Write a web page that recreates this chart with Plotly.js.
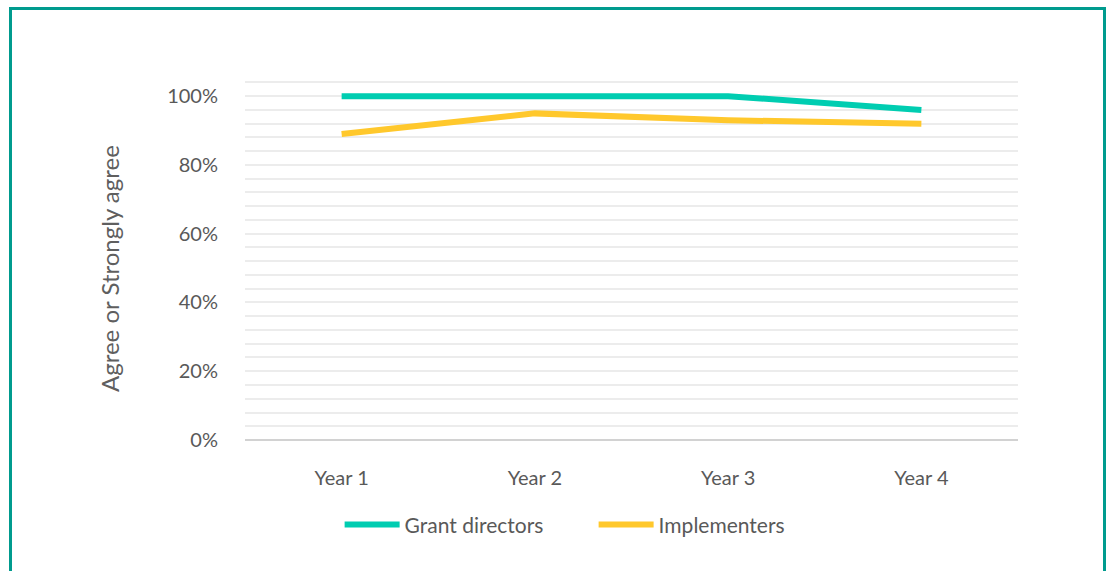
<!DOCTYPE html>
<html>
<head>
<meta charset="utf-8">
<script src="https://cdn.plot.ly/plotly-3.0.1.min.js"></script>
<style>
html,body{margin:0;padding:0;background:#fff;width:1113px;height:571px;overflow:hidden;}
#frame{position:absolute;left:9px;top:7px;width:1097px;height:620px;border:3px solid #009B8E;box-sizing:border-box;pointer-events:none;z-index:5;}
#chart{position:absolute;left:0;top:0;width:1113px;height:571px;}
</style>
</head>
<body>
<div id="chart"></div>
<div id="frame"></div>
<script>
const categories = ["Year 1", "Year 2", "Year 3", "Year 4"];
const grantDirectors = [100, 100, 100, 96];
const implementers = [89, 95, 93, 92];
const seriesNames = ["Grant directors", "Implementers"];
const yTickVals = [0, 20, 40, 60, 80, 100];
const yTickText = ["0%", "20%", "40%", "60%", "80%", "100%"];
const yTitle = "Agree or Strongly agree";

const traces = [
  {x: categories, y: grantDirectors, name: seriesNames[0], type: "scatter", mode: "lines",
   line: {color: "#00CDB1", width: 6}},
  {x: categories, y: implementers, name: seriesNames[1], type: "scatter", mode: "lines",
   line: {color: "#FFC82C", width: 6}}
];

const layout = {
  width: 1113, height: 571,
  margin: {l: 245, r: 95, t: 68, b: 131},
  paper_bgcolor: "#fff", plot_bgcolor: "#fff",
  font: {family: "Lato, 'Open Sans', sans-serif", color: "#595959", size: 20},
  showlegend: true,
  legend: {orientation: "h", x: 0.451, xanchor: "center", y: -0.228, yanchor: "middle",
           font: {size: 21, color: "#595959"}, itemwidth: 55, entrywidth: 184, traceorder: "normal"},
  xaxis: {type: "category", range: [-0.5, 3.5], showgrid: false, zeroline: false, showline: false,
          ticks: "", ticklabelstandoff: 24, tickfont: {size: 20, color: "#595959"}},
  yaxis: {range: [0, 108.2], tickvals: yTickVals, ticktext: yTickText, showgrid: false,
          zeroline: true, zerolinecolor: "#d2d2d2", zerolinewidth: 2, showline: false,
          ticks: "", ticklabelstandoff: 26, tickfont: {size: 20, color: "#595959"},
          minor: {dtick: 4, tick0: 0, showgrid: true, gridcolor: "#ececec", gridwidth: 2}},
  annotations: [{text: yTitle, xref: "paper", yref: "paper", x: -0.1746, y: 0.4597,
                 xanchor: "center", yanchor: "middle", textangle: -90, showarrow: false,
                 font: {size: 24, color: "#5f5f5f"}}]
};

Plotly.newPlot("chart", traces, layout, {displayModeBar: false, staticPlot: true});
</script>
</body>
</html>
